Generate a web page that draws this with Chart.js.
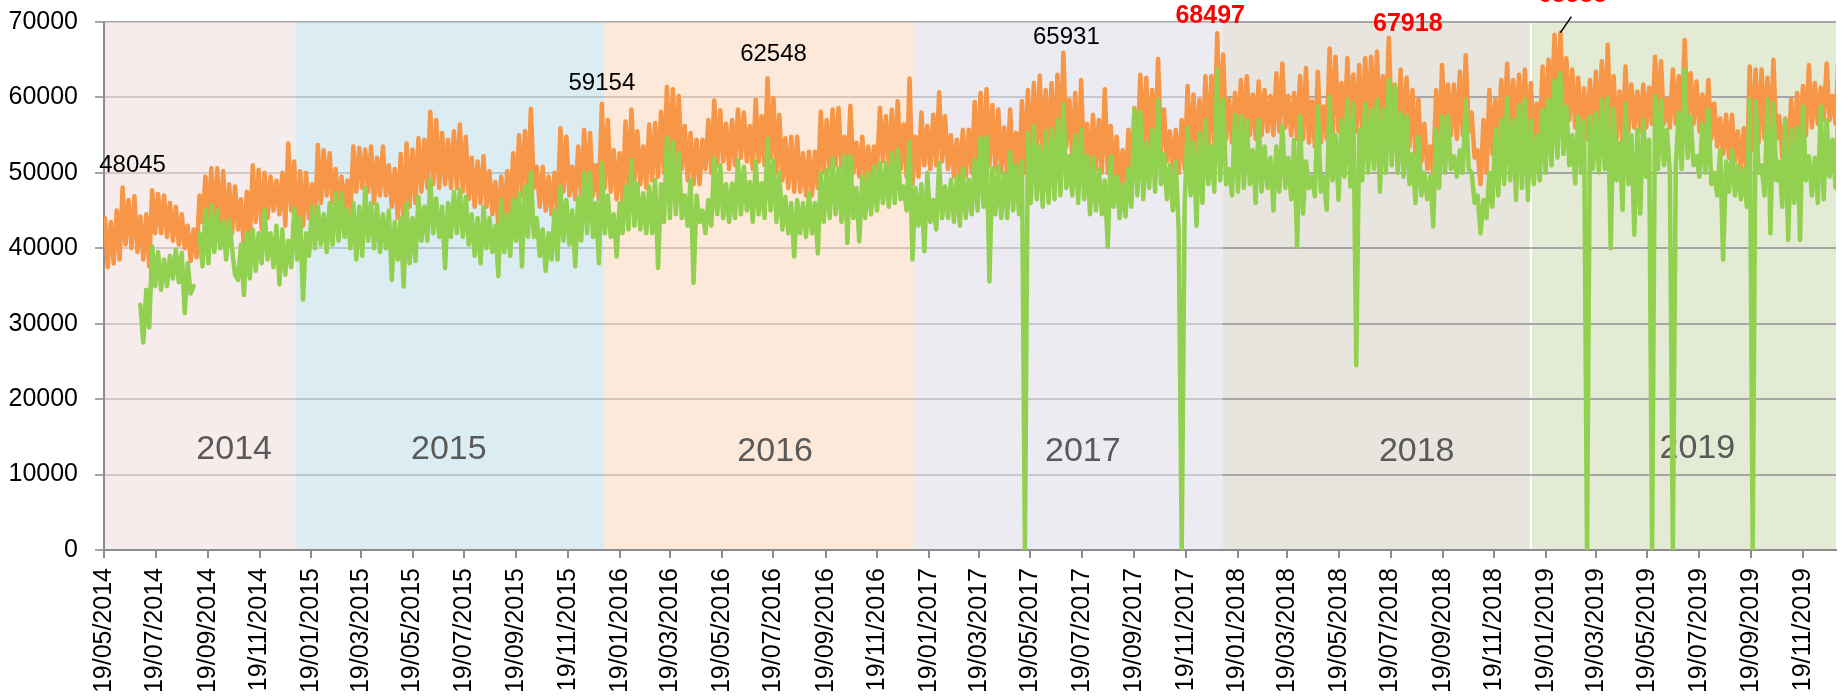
<!DOCTYPE html>
<html>
<head>
<meta charset="utf-8">
<title>Daily volume 2014 - 2019</title>
<script src="https://cdn.jsdelivr.net/npm/chart.js@4.4.1/dist/chart.umd.min.js"></script>
<style>
    html, body { margin: 0; padding: 0; background: #ffffff; overflow: hidden; }
    #wrap { position: relative; width: 1843px; height: 697px; }
</style>
</head>
<body>
<div id="wrap"><canvas id="volumeChart"></canvas></div>
<script>
// x axis tick labels (every second month, on the 19th)
const tickLabels = [
    '19/05/2014', '19/07/2014', '19/09/2014', '19/11/2014',
    '19/01/2015', '19/03/2015', '19/05/2015', '19/07/2015', '19/09/2015', '19/11/2015',
    '19/01/2016', '19/03/2016', '19/05/2016', '19/07/2016', '19/09/2016', '19/11/2016',
    '19/01/2017', '19/03/2017', '19/05/2017', '19/07/2017', '19/09/2017', '19/11/2017',
    '19/01/2018', '19/03/2018', '19/05/2018', '19/07/2018', '19/09/2018', '19/11/2018',
    '19/01/2019', '19/03/2019', '19/05/2019', '19/07/2019', '19/09/2019', '19/11/2019'
];
const yTicks = [0, 10000, 20000, 30000, 40000, 50000, 60000, 70000];
const bandYears = ['2014', '2015', '2016', '2017', '2018', '2019'];

// weekly values, week 0 = week of 19/05/2014
// each week gives its peak day and its low day
const orangePeaks = [
    44000, 43500, 45000, 48045, 46400, 46900, 44200, 44500, 47700, 47200,
    47000, 46000, 45500, 44500, 43000, 42500, 47000, 49500, 50600, 50600,
    50200, 48500, 48200, 46500, 47500, 51000, 50400, 50000, 49500, 49000,
    50000, 53900, 51500, 50200, 50000, 48500, 53700, 53000, 52600, 50500,
    49500, 49000, 53500, 53300, 53100, 53500, 52000, 53500, 51000, 50500,
    52500, 53900, 53100, 54600, 54400, 58100, 57000, 55300, 54400, 55500,
    56400, 54800, 52000, 51500, 52200, 50200, 48800, 49500, 50200, 52600,
    55000, 55500, 58500, 50800, 50800, 49500, 50000, 55900, 54800, 50800,
    53500, 55700, 55300, 51000, 59154, 57000, 53000, 52600, 56800, 58400,
    55500, 53500, 56400, 56600, 58100, 61400, 61100, 60200, 56200, 55300,
    54400, 54400, 57000, 59600, 58300, 56500, 57000, 58400, 58000, 56200,
    59700, 57500, 62548, 59900, 57700, 54600, 54800, 54800, 52600, 52800,
    52800, 58100, 57000, 58400, 58600, 54800, 58900, 54000, 54800, 53500,
    53500, 58600, 57500, 58400, 59500, 56400, 62500, 54800, 58000, 56200,
    57700, 60700, 57500, 55000, 54400, 55700, 55700, 59400, 60600, 61100,
    59000, 58400, 56000, 58400, 55300, 59500, 61000, 61900, 62900, 61000,
    61900, 63000, 65931, 59700, 60600, 62300, 56500, 57700, 57000, 61100,
    56200, 54800, 53000, 55700, 58600, 63000, 62600, 61000, 65100, 58400,
    55500, 55700, 57000, 61500, 60400, 59700, 62800, 62800, 68497, 65700,
    59700, 60600, 62300, 62800, 60400, 62100, 61000, 60200, 63200, 64500,
    60200, 60600, 62800, 63900, 59500, 63400, 58800, 66500, 65400, 61900,
    65200, 63000, 64300, 65200, 65400, 66100, 62800, 67918, 61700, 63700,
    62600, 61000, 59700, 56500, 53500, 61000, 64300, 61700, 61700, 63400,
    65600, 58000, 53000, 57000, 61000, 59700, 62300, 64500, 62300, 63000,
    63700, 61900, 59200, 64100, 65000, 68300, 68585, 65200, 63700, 62600,
    61200, 62300, 63400, 64800, 67000, 62800, 60800, 64100, 61700, 60800,
    61700, 61300, 65400, 64800, 59700, 63700, 62800, 67600, 63200, 62100,
    60400, 62300, 59200, 57200, 57700, 57700, 55500, 55900, 64100, 63700,
    63700, 62600, 65000, 57500, 57200, 59700, 60600, 61500, 64300, 61900,
    61300, 64500, 60200, 65400
];
const orangeLows = [
    37500, 38000, 38500, 40500, 40000, 39500, 38500, 37600, 42000, 42000,
    41500, 41000, 40500, 40000, 38300, 38800, 43500, 44000, 43000, 42500,
    42000, 42000, 42500, 40000, 41000, 43500, 42500, 44000, 45000, 44500,
    43000, 45000, 41000, 43000, 44000, 43000, 46000, 47000, 46000, 45500,
    45000, 44500, 47500, 48000, 47500, 46000, 47000, 47000, 45500, 44000,
    43000, 45500, 46000, 47500, 48000, 48500, 48000, 48500, 48000, 48000,
    47500, 46500, 45500, 46000, 45500, 44500, 43000, 43000, 44000, 46000,
    47000, 47500, 48000, 45500, 45000, 44500, 45000, 47500, 47000, 46500,
    47000, 47500, 47000, 46500, 48000, 47500, 46500, 46000, 48000, 49000,
    48500, 48000, 49000, 49500, 50000, 51000, 51500, 50500, 49000, 48500,
    48500, 50500, 50000, 51000, 51500, 50500, 51000, 52000, 51500, 50500,
    51500, 51000, 52000, 50000, 49000, 48000, 47500, 47500, 47000, 47000,
    48000, 50000, 50500, 51000, 50500, 49500, 50000, 49500, 49000, 49000,
    50500, 51500, 51000, 51000, 50500, 49500, 48500, 49500, 51000, 50500,
    51000, 51500, 50500, 49500, 49000, 49500, 50000, 51000, 51500, 51000,
    50500, 50000, 50000, 50500, 49500, 50000, 51000, 52000, 52500, 53000,
    52000, 52500, 53500, 52000, 51000, 51000, 50000, 50500, 50000, 50000,
    49000, 48000, 47800, 49000, 51500, 53000, 52500, 52500, 53000, 51500,
    50500, 50000, 50500, 52000, 52500, 52000, 53000, 53500, 54000, 54500,
    54000, 54500, 55000, 55000, 54500, 55000, 55500, 55000, 55500, 56000,
    55000, 54500, 54500, 54000, 53500, 54000, 54500, 55000, 55500, 55500,
    56000, 55500, 55000, 55500, 56000, 56000, 55000, 56000, 54500, 54000,
    53500, 52500, 51500, 50500, 49700, 53000, 55000, 55000, 54500, 55000,
    55500, 52000, 48500, 50000, 52500, 54000, 55000, 55500, 55000, 55000,
    54500, 54000, 55000, 56000, 57000, 58000, 58500, 57000, 56000, 55000,
    54500, 55000, 55000, 55500, 55000, 54500, 54000, 55500, 56000, 55500,
    56000, 56500, 57000, 56500, 56000, 56500, 57000, 57500, 56500, 55500,
    55000, 54500, 53500, 52500, 52000, 51500, 50500, 50000, 53000, 54000,
    54500, 54000, 54500, 52000, 51500, 52500, 54000, 55000, 56000, 56500,
    57000, 57000, 56500, 57000
];
const greenPeaks = [
    null, null, null, null, null, null, 32500, 34500, 40200, 39500,
    38500, 39000, 39800, 39400, 38000, 35000, 42000, 45000, 45700, 45000,
    43500, 43700, 36500, 40500, 42000, 42500, 42000, 45100, 42000, 43000,
    42500, 41000, 45300, 44000, 42000, 45500, 45500, 44500, 46000, 47300,
    47300, 45000, 46000, 45500, 48000, 46000, 45800, 44500, 45000, 43500,
    44000, 46000, 44000, 46800, 45500, 49100, 46600, 45500, 46000, 47500,
    47800, 46800, 44500, 44000, 45500, 44000, 43000, 46400, 44500, 46400,
    47300, 48200, 50000, 44000, 42500, 42000, 45000, 48200, 46400, 45000,
    46800, 50000, 50000, 46000, 51300, 47000, 44500, 46000, 48200, 51700,
    48600, 47300, 48200, 49100, 48500, 54600, 54100, 52600, 47000, 49100,
    47000, 45000, 46400, 51900, 51000, 48500, 48600, 51700, 50800, 48800,
    51500, 48600, 54500, 51700, 50000, 46800, 46000, 46400, 46000, 47300,
    46000, 50000, 50400, 51900, 50600, 52200, 52200, 48000, 49500, 50000,
    50800, 51300, 51300, 52600, 53100, 48200, 54100, 48000, 48500, 50000,
    46400, 51300, 48200, 49100, 49500, 50600, 49100, 51700, 54600, 54800,
    50600, 50800, 50000, 52800, 51000, 51500, 55300, 56200, 53500, 55500,
    55800, 57000, 59100, 52200, 55000, 55700, 52200, 52000, 50500, 49000,
    52200, 49500, 48500, 50500, 58400, 58100, 54000, 55700, 59700, 52500,
    51000, 51500, 0, 56000, 54000, 55300, 57000, 53500, 63700, 59700,
    50500, 57700, 57500, 57000, 53000, 57000, 53500, 52000, 53500, 56200,
    52000, 54400, 57500, 51500, 49500, 58800, 49500, 60100, 55000, 57000,
    59700, 59200, 55700, 59200, 58400, 59700, 58400, 62300, 61500, 58000,
    57500, 52500, 54800, 50000, 49500, 55700, 57500, 57500, 52200, 53000,
    59700, 50000, 47000, 46400, 50000, 55700, 57000, 60000, 57000, 59000,
    59700, 57000, 55000, 58400, 59700, 62300, 63200, 58800, 55000, 57500,
    56800, 57500, 58000, 59700, 59900, 58500, 54000, 59200, 55000, 55700,
    57000, 54400, 60200, 59700, 55700, 0, 58000, 63700, 57500, 52200,
    56500, 58400, 50000, 53000, 51500, 53000, 51000, 50500, 59700, 59500,
    51000, 59700, 59200, 51500, 57000, 55700, 56000, 58800, 52200, 52000,
    58800, 57000, 54400, 59700
];
const greenLows = [
    null, null, null, null, null, null, 27500, 29500, 35000, 34500,
    35000, 36000, 35500, 31400, 34000, null, 37600, 38000, 39500, 40000,
    38500, 40000, 35800, 33800, 36000, 37000, 38000, 38500, 37500, 35200,
    36500, 37500, 38500, 33200, 39000, 40000, 40500, 39500, 40500, 41000,
    41500, 40000, 38500, 39000, 41000, 40000, 39500, 40000, 35800, 38500,
    34900, 38000, 38300, 41000, 41000, 42000, 41500, 37400, 41500, 42000,
    41500, 40500, 39000, 38000, 40000, 39500, 36300, 39500, 39000, 41000,
    37600, 41500, 41500, 39000, 37000, 38500, 38500, 41000, 40500, 37600,
    41000, 42000, 41500, 38000, 42000, 41500, 38900, 42000, 42500, 43000,
    42500, 42000, 42000, 37400, 43500, 44000, 44500, 44000, 43000, 35400,
    43500, 42000, 43000, 44500, 44000, 43500, 44000, 44500, 45000, 43500,
    44500, 44000, 45000, 43500, 42500, 42000, 38900, 42000, 41500, 42000,
    39300, 43500, 44000, 44500, 43500, 40700, 44000, 40900, 44000, 44500,
    45000, 46000, 45500, 46000, 46500, 45000, 38500, 43000, 39600, 43500,
    42500, 44000, 44000, 43500, 43000, 44000, 44500, 45000, 45500, 35600,
    44500, 44000, 44000, 45000, 44500, 0, 46000, 46500, 45500, 46000,
    46500, 47000, 48000, 47000, 46000, 46500, 44500, 45000, 44500, 40200,
    45500, 44000, 44200, 45500, 47000, 46500, 48000, 47500, 48500, 46500,
    45000, 42000, 46000, 47000, 43000, 46000, 48500, 47500, 49000, 48500,
    47000, 47500, 48000, 48500, 46000, 47500, 48000, 45000, 47500, 48000,
    46500, 40200, 44600, 48000, 46900, 47500, 45100, 49000, 46400, 49500,
    48200, 24500, 49000, 50000, 50500, 47500, 50000, 51000, 50000, 49500,
    48500, 46000, 47000, 46500, 42900, 48000, 50000, 50500, 49500, 50000,
    50500, 46000, 42000, 44000, 45500, 47000, 48500, 49000, 46400, 48000,
    46400, 48500, 49000, 50000, 51000, 52000, 52500, 51000, 48600, 50000,
    0, 50500, 50000, 50500, 40000, 49000, 45100, 48500, 41800, 44600,
    49500, 0, 50500, 51000, 50000, 51000, 50500, 52000, 51000, 49500,
    50000, 48500, 47000, 38500, 47500, 47000, 46500, 45500, 0, 50000,
    47000, 42000, 49000, 45500, 41100, 46000, 41100, 49000, 47000, 46000,
    46500, 49500, 48000, 45500
];
// weeks whose orange peak carries a value label
const labelledWeeks = [3, 84, 112, 162, 188, 217, 246];

const FONT = "'Liberation Sans', Arial, sans-serif";

function dayOffset(y, m, d) {
    return (Date.UTC(y, m - 1, d) - Date.UTC(2014, 4, 19)) / 86400000;
}
function parseDMY(s) {
    const parts = s.split('/').map(Number);
    return dayOffset(parts[2], parts[1], parts[0]);
}
const tickDays = tickLabels.map(parseDMY);

// peak on day 1 of the week, low mid-week
function weeklyPoints(peaks, lows) {
    const pts = [];
    peaks.forEach((p, w) => {
        pts.push({ x: w * 7 + 1, y: p });
        pts.push({ x: w * 7 + 4.5, y: lows[w] });
    });
    return pts;
}

// year background bands; the earlier ones sit over the gridlines, slightly see-through
const bandStyles = [
    { fill: 'rgba(240,223,222,0.6)', overGrid: true },
    { fill: 'rgba(195,225,235,0.6)', overGrid: true },
    { fill: 'rgba(252,218,192,0.6)', overGrid: true },
    { fill: 'rgba(225,222,233,0.6)', overGrid: true },
    { fill: '#E8E5DE', overGrid: false },
    { fill: '#E3EBD5', overGrid: false }
];
const yearTextAt = [
    { day: 154, value: 13300 }, { day: 408, value: 13300 }, { day: 794, value: 13000 },
    { day: 1158, value: 13000 }, { day: 1553, value: 13000 }, { day: 1885, value: 13400 }
];
const peakLabelStyles = [
    { color: '#000000', bold: false, dx: 10, dy: -22 },
    { color: '#000000', bold: false, dx: 0, dy: -20 },
    { color: '#000000', bold: false, dx: 6, dy: -24 },
    { color: '#000000', bold: false, dx: 3, dy: -15 },
    { color: '#FF0000', bold: true, dx: -7, dy: -17 },
    { color: '#FF0000', bold: true, dx: 19, dy: -14 },
    { color: '#FF0000', bold: true, dx: 12, dy: -38, leader: [11, -16] }
];

function drawBands(chart, overGrid) {
    const ctx = chart.ctx;
    const a = chart.chartArea;
    const x = chart.scales.x;
    ctx.save();
    ctx.beginPath();
    ctx.rect(a.left + 1, a.top, a.right - a.left - 1, a.bottom - a.top - 1);
    ctx.clip();
    bandYears.forEach((yr, i) => {
        const st = bandStyles[i];
        if (st.overGrid !== overGrid) return;
        const x0 = x.getPixelForValue(dayOffset(+yr, 1, 1));
        const x1 = x.getPixelForValue(dayOffset(+yr + 1, 1, 1));
        ctx.fillStyle = st.fill;
        ctx.fillRect(x0, a.top, x1 - x0, a.bottom - a.top);
    });
    if (!overGrid) {
        // thin white seam where 2019 starts
        const xs = x.getPixelForValue(dayOffset(2019, 1, 1));
        ctx.fillStyle = '#ffffff';
        ctx.fillRect(xs - 1, a.top, 2, a.bottom - a.top);
    }
    ctx.restore();
}

const yearBands = {
    id: 'yearBands',
    beforeDraw(chart) {
        drawBands(chart, false);
    },
    beforeDatasetsDraw(chart) {
        drawBands(chart, true);
        const ctx = chart.ctx;
        ctx.save();
        ctx.font = '34px ' + FONT;
        ctx.fillStyle = '#595959';
        ctx.textAlign = 'center';
        ctx.textBaseline = 'middle';
        bandYears.forEach((yr, i) => {
            const pos = yearTextAt[i];
            ctx.fillText(yr, chart.scales.x.getPixelForValue(pos.day), chart.scales.y.getPixelForValue(pos.value));
        });
        ctx.restore();
    }
};

const peakLabels = {
    id: 'peakLabels',
    afterDatasetsDraw(chart) {
        const ctx = chart.ctx;
        ctx.save();
        ctx.textAlign = 'center';
        ctx.textBaseline = 'middle';
        labelledWeeks.forEach((w, i) => {
            const st = peakLabelStyles[i];
            const px = chart.scales.x.getPixelForValue(w * 7 + 1);
            const py = chart.scales.y.getPixelForValue(orangePeaks[w]);
            ctx.font = (st.bold ? 'bold 25px ' : '24px ') + FONT;
            ctx.fillStyle = st.color;
            ctx.fillText(String(orangePeaks[w]), px + st.dx, py + st.dy);
            if (st.leader) {
                ctx.strokeStyle = '#000000';
                ctx.lineWidth = 1.5;
                ctx.beginPath();
                ctx.moveTo(px, py);
                ctx.lineTo(px + st.leader[0], py + st.leader[1]);
                ctx.stroke();
            }
        });
        ctx.restore();
    }
};

new Chart(document.getElementById('volumeChart'), {
    type: 'line',
    data: {
        datasets: [
            {
                label: 'Green',
                data: weeklyPoints(greenPeaks, greenLows),
                borderColor: '#92D050',
                borderWidth: 4.5,
                borderJoinStyle: 'round',
                borderCapStyle: 'round',
                pointRadius: 0,
                tension: 0,
                spanGaps: false,
                fill: false
            },
            {
                label: 'Orange',
                data: weeklyPoints(orangePeaks, orangeLows),
                borderColor: '#F79646',
                borderWidth: 4.5,
                borderJoinStyle: 'round',
                borderCapStyle: 'round',
                pointRadius: 0,
                tension: 0,
                fill: false
            }
        ]
    },
    options: {
        responsive: true,
        maintainAspectRatio: false,
        animation: false,
        layout: { padding: { top: 22, left: 0, right: 0, bottom: 0 } },
        plugins: {
            legend: { display: false },
            tooltip: { enabled: false }
        },
        scales: {
            x: {
                type: 'linear',
                min: 0,
                max: 2049,
                afterBuildTicks: scale => { scale.ticks = tickDays.map(v => ({ value: v })); },
                afterFit: scale => { scale.height = 147; },
                grid: { drawOnChartArea: false, drawTicks: true, tickLength: 8, color: '#8c8c8c', lineWidth: 2 },
                border: { display: true, color: '#8c8c8c', width: 2 },
                ticks: {
                    autoSkip: false,
                    minRotation: 90,
                    maxRotation: 90,
                    padding: 10,
                    color: '#000000',
                    font: { family: FONT, size: 25 },
                    callback: (value, index) => tickLabels[index]
                }
            },
            y: {
                min: 0,
                max: 70000,
                afterBuildTicks: scale => { scale.ticks = yTicks.map(v => ({ value: v })); },
                afterFit: scale => {
                    scale.width = 104;
                    scale.paddingTop = 0;
                    scale.paddingBottom = 0;
                },
                grid: { color: '#a6a6a6', lineWidth: 2, tickLength: 9 },
                border: { display: true, color: '#8c8c8c', width: 2 },
                ticks: {
                    padding: 17,
                    color: '#000000',
                    font: { family: FONT, size: 25 },
                    callback: value => String(value)
                }
            }
        }
    },
    plugins: [yearBands, peakLabels]
});
</script>
</body>
</html>
